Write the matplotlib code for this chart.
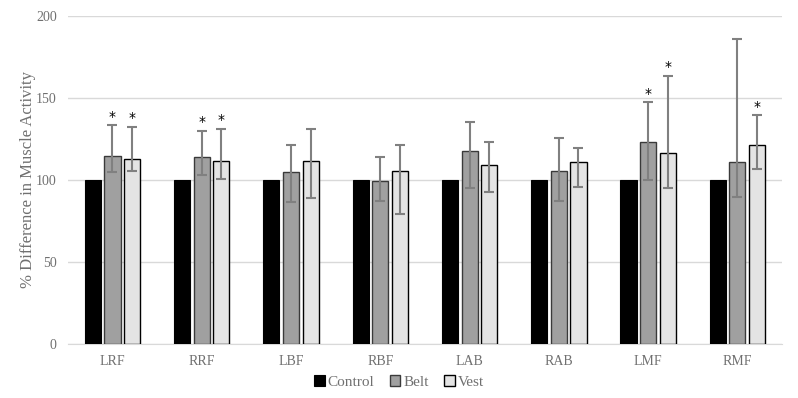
import numpy as np
import matplotlib.pyplot as plt

plt.rcParams['font.family'] = ['Liberation Serif', 'DejaVu Serif']

muscles = ["LRF", "RRF", "LBF", "RBF", "LAB", "RAB", "LMF", "RMF"]

control = [100, 100, 100, 100, 100, 100, 100, 100]

belt = [114.6, 113.8, 104.7, 99.2, 117.7, 105.5, 123.2, 110.8]
belt_lo = [104.9, 103.0, 86.6, 87.4, 95.0, 87.0, 99.8, 89.8]
belt_hi = [133.2, 130.0, 121.0, 113.8, 135.6, 125.6, 147.4, 186.0]
belt_sig = [True, True, False, False, False, False, True, False]

vest = [113.0, 111.6, 111.6, 105.3, 109.1, 111.0, 116.3, 121.5]
vest_lo = [105.5, 100.4, 89.0, 79.5, 92.7, 95.9, 95.3, 106.9]
vest_hi = [132.5, 131.0, 131.0, 121.0, 123.2, 119.3, 163.6, 139.4]
vest_sig = [True, True, False, False, False, False, True, True]

x = np.arange(len(muscles))
w = 0.18
off = 0.22

fig = plt.figure(figsize=(7.98, 3.98), dpi=100)
ax = fig.add_axes([0.085, 0.136, 0.895, 0.824])

ax.bar(x - off, control, w, color='black', edgecolor='black', linewidth=0.8, label='Control', zorder=3)

belt = np.array(belt)
vest = np.array(vest)
belt_err = [belt - np.array(belt_lo), np.array(belt_hi) - belt]
vest_err = [vest - np.array(vest_lo), np.array(vest_hi) - vest]

ax.bar(x, belt, w, color='#a0a0a0', edgecolor='#3a3a3a', linewidth=1.0, label='Belt', zorder=3)
ax.bar(x + off, vest, w, color='#e4e4e4', edgecolor='black', linewidth=1.0, label='Vest', zorder=3)

ax.errorbar(x, belt, yerr=belt_err, fmt='none', ecolor='#808080', elinewidth=1.5, capsize=3.5, capthick=1.5, zorder=4)
ax.errorbar(x + off, vest, yerr=vest_err, fmt='none', ecolor='#808080', elinewidth=1.5, capsize=3.5, capthick=1.5, zorder=4)

# significance stars
for i in range(len(muscles)):
    if belt_sig[i]:
        ax.text(x[i], belt_hi[i] + 1, '*', ha='center', va='bottom', fontsize=10,
                family='DejaVu Sans', color='black', zorder=5)
    if vest_sig[i]:
        ax.text(x[i] + off, vest_hi[i] + 1, '*', ha='center', va='bottom', fontsize=10,
                family='DejaVu Sans', color='black', zorder=5)

ax.set_xlim(-0.5, len(muscles) - 0.5)
ax.set_ylim(0, 200)
ax.set_yticks([0, 50, 100, 150, 200])
ax.set_xticks(x)
ax.set_xticklabels(muscles)
ax.grid(axis='y', color='#d9d9d9', linewidth=1.0, zorder=0)
ax.set_axisbelow(True)
for s in ['top', 'right', 'left']:
    ax.spines[s].set_visible(False)
ax.spines['bottom'].set_color('#d9d9d9')
ax.tick_params(axis='both', length=0, labelsize=10, colors='#707070', pad=8)
ax.set_ylabel('% Difference in Muscle Activity', fontsize=12, color='#707070', labelpad=0)

handles, labels = ax.get_legend_handles_labels()
fig.legend(handles, labels, loc='center', bbox_to_anchor=(0.5, 0.04), ncol=3, frameon=False,
           fontsize=11, handlelength=0.7, handleheight=0.7, handletextpad=0.2,
           columnspacing=1.0, labelcolor='#707070')

plt.savefig('out.png', dpi=100)
